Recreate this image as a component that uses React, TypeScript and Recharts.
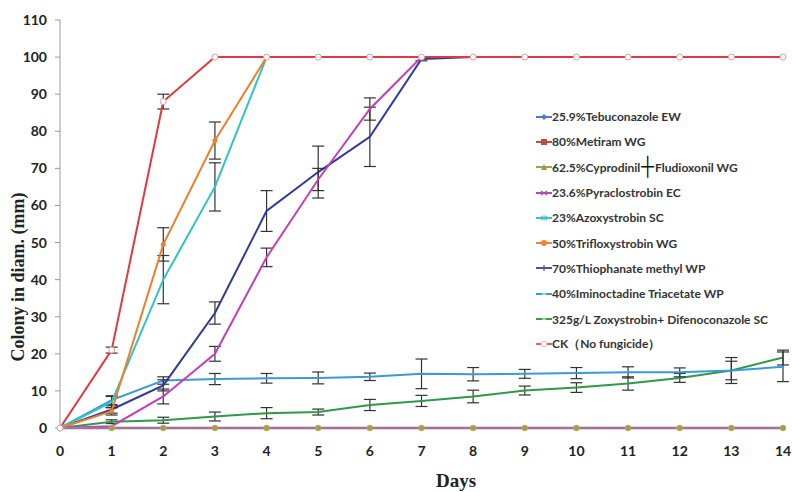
import React from 'react';
import { LineChart, Line, XAxis, YAxis, ErrorBar, Legend, Label } from 'recharts';

const days = [0, 1, 2, 3, 4, 5, 6, 7, 8, 9, 10, 11, 12, 13, 14];
const yTicks = [0, 10, 20, 30, 40, 50, 60, 70, 80, 90, 100, 110];

// mean colony diameter (mm) per day
const tebuconazole = [0, 0, 0, 0, 0, 0, 0, 0, 0, 0, 0, 0, 0, 0, 0];
const metiram = [0, 0, 0, 0, 0, 0, 0, 0, 0, 0, 0, 0, 0, 0, 0];
const cyprodinil = [0, 0, 0, 0, 0, 0, 0, 0, 0, 0, 0, 0, 0, 0, 0];
const pyraclostrobin = [0, 0.5, 8.5, 20, 46, 67, 86, 100, 100, 100, 100, 100, 100, 100, 100];
const azoxystrobin = [0, 7, 40, 65, 100, 100, 100, 100, 100, 100, 100, 100, 100, 100, 100];
const trifloxystrobin = [0, 4.5, 49.5, 77.5, 100, 100, 100, 100, 100, 100, 100, 100, 100, 100, 100];
const thiophanate = [0, 5, 11.5, 31, 58.5, 69, 78.5, 99.5, 100, 100, 100, 100, 100, 100, 100];
const iminoctadine = [0, 7.5, 12.8, 13.2, 13.4, 13.5, 13.8, 14.6, 14.5, 14.6, 14.8, 15, 15, 15.5, 16.5];
const zoxyDifeno = [0, 1.7, 2.1, 3.1, 4, 4.3, 6.2, 7.3, 8.5, 10.1, 10.9, 12, 13.5, 15.5, 19];
const ck = [0, 21, 88, 100, 100, 100, 100, 100, 100, 100, 100, 100, 100, 100, 100];

// error bar half-widths (null = none drawn)
const ckErr = [null, 0.8, 2, null, null, null, null, null, null, null, null, null, null, null, null];
const trifloErr = [null, 1, 4.5, 5, null, null, null, null, null, null, null, null, null, null, null];
const azoxyErr = [null, 1.5, 6.5, 6.5, null, null, null, null, null, null, null, null, null, null, null];
const thioErr = [null, 1, 1.5, 3, 5.5, 7, 8, 0.5, null, null, null, null, null, null, null];
const pyraErr = [null, null, 2, 2, 2.5, 3, 3, null, null, null, null, null, null, null, null];
const iminoErr = [null, 1.2, 1, 1.5, 1.3, 1.6, 1, 4, 1.8, 1.2, 1.5, 1.5, 1.2, 3.5, 4];
const zoxyErr = [null, 0.5, 0.8, 1.2, 1.5, 0.8, 1.5, 1.5, 1.7, 1.2, 1.3, 1.8, 1.2, 2.5, 2];

const data = days.map((d, i) => ({
  day: d,
  teb: tebuconazole[i],
  met: metiram[i],
  cyp: cyprodinil[i],
  pyra: pyraclostrobin[i],
  azoxy: azoxystrobin[i],
  triflo: trifloxystrobin[i],
  thio: thiophanate[i],
  imino: iminoctadine[i],
  zoxy: zoxyDifeno[i],
  ck: ck[i],
  ckErr: ckErr[i],
  trifloErr: trifloErr[i],
  azoxyErr: azoxyErr[i],
  thioErr: thioErr[i],
  pyraErr: pyraErr[i],
  iminoErr: iminoErr[i],
  zoxyErr: zoxyErr[i],
}));

const legendItems = [
  { name: '25.9%Tebuconazole EW', color: '#4A7EBB', mark: 'diamond' },
  { name: '80%Metiram WG', color: '#BE4B48', mark: 'square' },
  { name: 'cyp', color: '#98A84E', mark: 'triangle' },
  { name: '23.6%Pyraclostrobin EC', color: '#B24AB0', mark: 'x' },
  { name: '23%Azoxystrobin SC', color: '#3CC0C8', mark: 'star' },
  { name: '50%Trifloxystrobin WG', color: '#F0853A', mark: 'circle' },
  { name: '70%Thiophanate methyl WP', color: '#5050A8', mark: 'plus' },
  { name: '40%Iminoctadine Triacetate WP', color: '#3A9AD9', mark: 'dash' },
  { name: '325g/L Zoxystrobin+ Difenoconazole SC', color: '#3E9A48', mark: 'dash' },
  { name: 'CK（No fungicide）', color: '#E06070', mark: 'hollow' },
];

const Icon = ({ color, mark }: { color: string; mark: string }) => (
  <svg width={16} height={10} style={{ marginRight: 0 }}>
    <line x1={0} y1={5} x2={16} y2={5} stroke={color} strokeWidth={2} />
    {mark === 'square' && <rect x={5} y={2} width={6} height={6} fill={color} />}
    {mark === 'diamond' && <path d="M8 2 L11 5 L8 8 L5 5 Z" fill={color} />}
    {mark === 'triangle' && <path d="M8 2 L11 8 L5 8 Z" fill="#B08A48" />}
    {mark === 'circle' && <circle cx={8} cy={5} r={3} fill={color} />}
    {mark === 'hollow' && <circle cx={8} cy={5} r={2.8} fill="#fff" stroke="#F0B0B8" strokeWidth={1} />}
    {mark === 'x' && <path d="M5 3 L11 7 M5 7 L11 3" stroke={color} strokeWidth={1.2} />}
    {mark === 'plus' && <path d="M8 2 L8 8" stroke={color} strokeWidth={1.2} />}
    {mark === 'star' && <path d="M5 3 L11 7 M5 7 L11 3 M8 2 L8 8" stroke={color} strokeWidth={1} />}
    {mark === 'dash' && <line x1={6} y1={5} x2={10} y2={5} stroke="#fff" strokeWidth={1} />}
  </svg>
);

const renderLegend = () => (
  <div style={{ fontFamily: 'Lato, sans-serif', fontWeight: 700, fontSize: 12, color: '#333' }}>
    {legendItems.map((it) => (
      <div key={it.name} style={{ display: 'flex', alignItems: 'center', height: 25.3, whiteSpace: 'nowrap' }}>
        <Icon color={it.color} mark={it.mark} />
        {it.name === 'cyp' ? (
          <span>
            62.5%Cyprodinil
            <span style={{ fontSize: 18, fontWeight: 400, color: '#111', lineHeight: '10px', margin: '0 1px' }}>┼</span>
            Fludioxonil WG
          </span>
        ) : (
          <span>{it.name}</span>
        )}
      </div>
    ))}
  </div>
);

const tickStyle = { fontFamily: 'Lato, sans-serif', fontWeight: 700, fontSize: 14, fill: '#222' };
const errProps = { width: 6, stroke: '#333', strokeWidth: 1.2, direction: 'y' as const };

export default function App() {
  return (
    <div style={{ position: 'absolute', left: 0, top: 0, background: '#fff' }}>
      <LineChart width={792} height={492} data={data} margin={{ top: 20, right: 9, left: 0, bottom: 0 }}>
        <XAxis
          dataKey="day"
          type="number"
          domain={[0, 14]}
          ticks={days}
          height={64}
          tick={tickStyle}
          tickLine={false}
          tickMargin={12}
          axisLine={{ stroke: '#999' }}
        >
          <Label
            content={() => (
              <text x={456} y={487} textAnchor="middle" fontFamily="'Liberation Serif', serif" fontWeight={700} fontSize={19} fill="#222">
                Days
              </text>
            )}
          />
        </XAxis>
        <YAxis
          type="number"
          domain={[0, 110]}
          ticks={yTicks}
          width={60}
          tick={tickStyle}
          tickSize={5}
          tickMargin={8}
          tickLine={{ stroke: '#999' }}
          axisLine={{ stroke: '#999' }}
        >
          <Label
            content={() => (
              <text x={24} y={277} transform="rotate(-90 24 277)" textAnchor="middle" fontFamily="'Liberation Serif', serif" fontWeight={700} fontSize={18} fill="#222">
                Colony in diam. (mm)
              </text>
            )}
          />
        </YAxis>
        <Legend
          layout="vertical"
          align="center"
          verticalAlign="middle"
          content={renderLegend}
          wrapperStyle={{ position: 'absolute', left: 536, top: 104, width: 256 }}
        />
        <Line dataKey="teb" stroke="#4A7EBB" strokeWidth={2} dot={false} isAnimationActive={false} />
        <Line dataKey="met" stroke="#BE4B48" strokeWidth={2} dot={false} isAnimationActive={false} />
        <Line
          dataKey="cyp"
          stroke="#A0528A"
          strokeWidth={2.5}
          dot={{ r: 3, fill: '#A3A048', stroke: '#C0B070', strokeWidth: 0.5 }}
          isAnimationActive={false}
        />
        <Line dataKey="zoxy" stroke="#2E9A48" strokeWidth={2} dot={false} isAnimationActive={false}>
          <ErrorBar dataKey="zoxyErr" {...errProps} />
        </Line>
        <Line dataKey="imino" stroke="#3A9AD9" strokeWidth={2} dot={false} isAnimationActive={false}>
          <ErrorBar dataKey="iminoErr" {...errProps} />
        </Line>
        <Line dataKey="thio" stroke="#2F3A9A" strokeWidth={2} dot={false} isAnimationActive={false}>
          <ErrorBar dataKey="thioErr" {...errProps} />
        </Line>
        <Line dataKey="pyra" stroke="#C23FB8" strokeWidth={2} dot={false} isAnimationActive={false}>
          <ErrorBar dataKey="pyraErr" {...errProps} />
        </Line>
        <Line dataKey="azoxy" stroke="#2EC4C4" strokeWidth={2} dot={false} isAnimationActive={false}>
          <ErrorBar dataKey="azoxyErr" {...errProps} />
        </Line>
        <Line dataKey="triflo" stroke="#F07D2C" strokeWidth={2} dot={{ r: 2.5, fill: '#F07D2C', stroke: 'none' }} isAnimationActive={false}>
          <ErrorBar dataKey="trifloErr" {...errProps} />
        </Line>
        <Line
          dataKey="ck"
          stroke="#E0393E"
          strokeWidth={2}
          dot={{ r: 3, fill: '#fff', stroke: '#D8A0A8', strokeWidth: 1 }}
          isAnimationActive={false}
        >
          <ErrorBar dataKey="ckErr" {...errProps} />
        </Line>
      </LineChart>
    </div>
  );
}
